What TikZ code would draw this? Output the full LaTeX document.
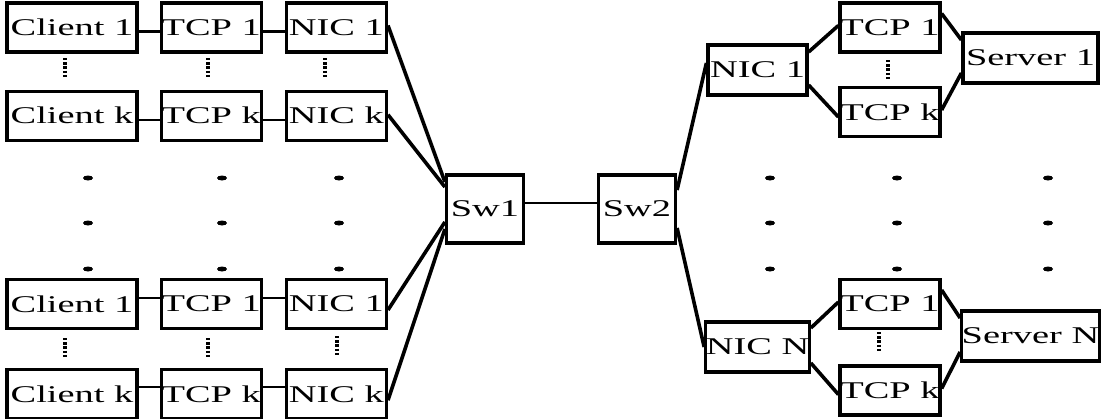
\documentclass[tikz,border=0pt]{standalone}
\usepackage{fontspec}
\setmainfont{Liberation Serif}
\usepackage{graphicx}
\usetikzlibrary{positioning}
\newcommand{\wtxt}[1]{\scalebox{1.6}[1]{#1}}

\begin{document}
\begin{tikzpicture}[x=1pt, y=-1pt, node distance=36pt and 21pt, semithick]
  \tikzstyle{box}=[draw, rectangle, line width=3.2pt, inner sep=0pt, minimum height=49pt, font=\fontsize{24}{24}\selectfont]
  \tikzstyle{cbox}=[box, minimum width=130pt]
  \tikzstyle{tbox}=[box, minimum width=100pt]
  \tikzstyle{swbox}=[box, minimum width=77pt, minimum height=68pt]
  \tikzstyle{sbox}=[box, minimum width=135pt, minimum height=50pt]
  \tikzstyle{link}=[line width=2.2pt]
  \tikzstyle{trunk}=[line width=3.6pt]
  \tikzstyle{vdots}=[line width=4pt, dash pattern=on 2.4pt off 1.8pt]
  \useasboundingbox (0,0) rectangle (1101,418);

  % clients, upper group
  \node[cbox] (c1) at (72,27.5)           {\wtxt{Client 1}};
  \node[tbox] (t1) [right=21pt of c1]     {\wtxt{TCP 1}};
  \node[tbox] (n1) [right=22pt of t1]     {\wtxt{NIC 1}};
  \node[cbox] (ck) [below=36pt of c1]     {\wtxt{Client k}};
  \node[tbox] (tk) [below=36pt of t1]     {\wtxt{TCP k}};
  \node[tbox] (nk) [below=36pt of n1]     {\wtxt{NIC k}};

  % clients, lower group
  \node[cbox] (c1b) at (72,304)           {\wtxt{Client 1}};
  \node[tbox] (t1b) [right=21pt of c1b]   {\wtxt{TCP 1}};
  \node[tbox] (n1b) [right=22pt of t1b]   {\wtxt{NIC 1}};
  \node[cbox] (ckb) [below=38pt of c1b]   {\wtxt{Client k}};
  \node[tbox] (tkb) [below=38pt of t1b]   {\wtxt{TCP k}};
  \node[tbox] (nkb) [below=38pt of n1b]   {\wtxt{NIC k}};

  % switches
  \node[swbox] (sw1) at (485,209)         {\wtxt{Sw1}};
  \node[swbox] (sw2) at (637,209)         {\wtxt{Sw2}};

  % servers
  \node[tbox, minimum width=99pt, minimum height=50pt] (sn1) at (757.5,70) {\wtxt{NIC 1}};
  \node[tbox] (st1) at (890,27.5)         {\wtxt{TCP 1}};
  \node[tbox] (stk) at (890,112)          {\wtxt{TCP k}};
  \node[sbox] (srv1) at (1030.5,58)       {\wtxt{Server 1}};
  \node[tbox, minimum width=99pt, minimum height=50pt] (snN) at (757.5,347) {\wtxt{NIC N}};
  \node[tbox] (st1b) at (890,304)         {\wtxt{TCP 1}};
  \node[tbox] (stkb) at (890,390.5)       {\wtxt{TCP k}};
  \node[sbox] (srvN) at (1030.5,336)      {\wtxt{Server N}};

  \path[link]
    ([yshift=-4pt]c1.east) edge ([yshift=-4pt]t1.west)
    ([yshift=-4pt]t1.east) edge ([yshift=-4pt]n1.west)
    ([yshift=-4pt]ck.east) edge ([yshift=-4pt]tk.west)
    ([yshift=-4pt]tk.east) edge ([yshift=-4pt]nk.west)
    ([yshift=6pt]c1b.east) edge ([yshift=6pt]t1b.west)
    ([yshift=6pt]t1b.east) edge ([yshift=6pt]n1b.west)
    ([yshift=7pt]ckb.east) edge ([yshift=7pt]tkb.west)
    ([yshift=7pt]tkb.east) edge ([yshift=7pt]nkb.west)
    ([yshift=6pt]sw1.east) edge ([yshift=6pt]sw2.west);

  \path[trunk]
    ([yshift=2pt]n1.east)   edge ([yshift=27pt]sw1.west)
    ([yshift=1pt]nk.east)   edge ([yshift=22pt]sw1.west)
    ([yshift=-6pt]n1b.east) edge ([yshift=-13pt]sw1.west)
    ([yshift=-6pt]nkb.east) edge ([yshift=-20pt]sw1.west)
    ([yshift=19pt]sw2.east) edge ([yshift=7pt]sn1.west)
    ([yshift=-19pt]sw2.east) edge (snN.west)
    ([yshift=18pt]sn1.east) edge ([yshift=2pt]st1.west)
    ([yshift=-15pt]sn1.east) edge ([yshift=-5pt]stk.west)
    ([yshift=14pt]st1.east) edge ([yshift=18pt]srv1.west)
    ([yshift=2pt]stk.east)  edge ([yshift=-15pt]srv1.west)
    ([yshift=19pt]snN.east) edge ([yshift=2pt]st1b.west)
    ([yshift=-16pt]snN.east) edge ([yshift=-4pt]stkb.west)
    ([yshift=14pt]st1b.east) edge ([yshift=18pt]srvN.west)
    ([yshift=2pt]stkb.east) edge ([yshift=-16pt]srvN.west);

  % vertical dots between rows
  \draw[vdots] (65,58) -- (65,78)   (208,58) -- (208,78)   (325,58) -- (325,78);
  \draw[vdots] (65,338) -- (65,358) (208,338) -- (208,358) (337,336) -- (337,356);
  \draw[vdots] (888,60) -- (888,80) (879,332) -- (879,352);

  % dots between the groups
  \fill (88,178) ellipse (5pt and 2.5pt)  (222,178) ellipse (5pt and 2.5pt)  (339,178) ellipse (5pt and 2.5pt)
        (88,223) ellipse (5pt and 2.5pt)  (222,223) ellipse (5pt and 2.5pt)  (339,223) ellipse (5pt and 2.5pt)
        (88,269) ellipse (5pt and 2.5pt)  (222,269) ellipse (5pt and 2.5pt)  (339,269) ellipse (5pt and 2.5pt)
        (770,178) ellipse (5pt and 2.5pt) (897,178) ellipse (5pt and 2.5pt) (1048,178) ellipse (5pt and 2.5pt)
        (770,223) ellipse (5pt and 2.5pt) (897,223) ellipse (5pt and 2.5pt) (1048,223) ellipse (5pt and 2.5pt)
        (770,269) ellipse (5pt and 2.5pt) (897,269) ellipse (5pt and 2.5pt) (1048,269) ellipse (5pt and 2.5pt);
\end{tikzpicture}
\end{document}
